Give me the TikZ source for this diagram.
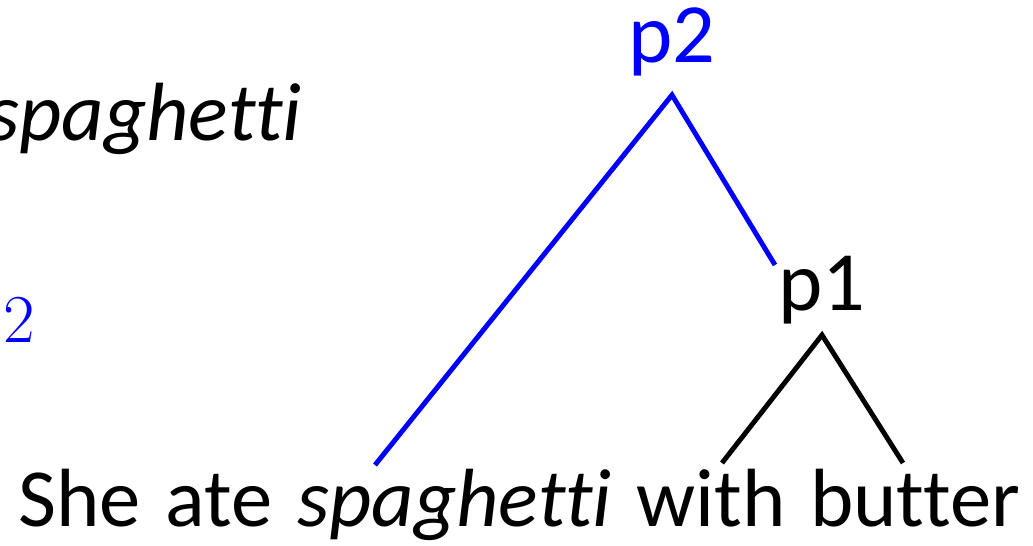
\documentclass[tikz,border=0pt]{standalone}
\usepackage{fontspec}
\setmainfont[Ligatures=NoCommon]{Carlito}
\newfontfamily\cmfont{Latin Modern Roman}
\usepackage{tikz}
\usetikzlibrary{positioning}
\definecolor{treeblue}{RGB}{0, 0, 255}

\begin{document}
\begin{tikzpicture}[
  word/.style={inner sep=0pt, font=\fontsize{47}{50}\selectfont},
  lab/.style={inner sep=0pt, anchor=base, font=\fontsize{48}{52}\selectfont},
  edge/.style={line width=2.8pt}]
\useasboundingbox (0,0) rectangle (20.66,10.9);

% context on the left (cut by the frame)
\node[word, anchor=base east] (ctx) at (6.04,8.1) {\itshape spaghetti};
\node[inner sep=0pt, anchor=base west, text=treeblue, font=\cmfont\fontsize{39}{42}\selectfont] (sub) at (0.06,4.06) {2};

% tree
\node[lab, text=treeblue] (p2) at (13.44,9.66) {p2};
\node[lab] (p1) at (16.44,4.7) {p1};
\node[word, anchor=base west] (sent) at (0.36,0.38)
  {\spaceskip=0.3em She ate \textit{spaghetti} with butter};

\coordinate (p2top) at (13.44,9.0);
\coordinate (p1in) at (15.5,5.6);
\coordinate (p1top) at (16.44,4.2);
\coordinate (spagtop) at (7.5,1.6);
\coordinate (withtop) at (14.44,1.64);
\coordinate (buttertop) at (18.06,1.64);

\draw[edge, treeblue] (spagtop) -- (p2top) -- (p1in);
\draw[edge] (withtop) -- (p1top) -- (buttertop);
\end{tikzpicture}
\end{document}
